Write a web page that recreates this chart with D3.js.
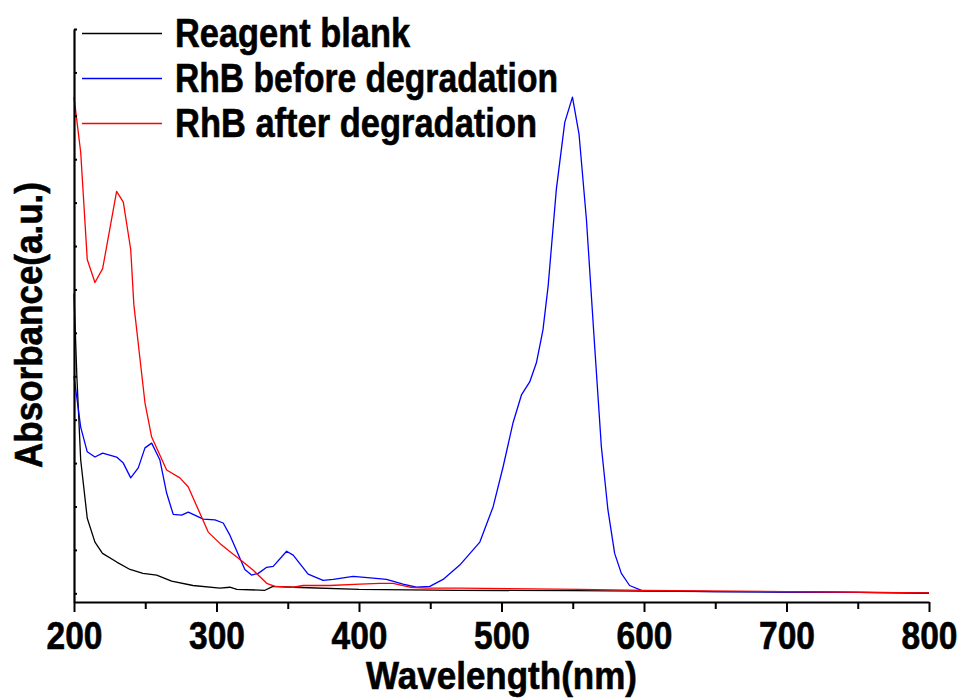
<!DOCTYPE html>
<html>
<head>
<meta charset="utf-8">
<script src="https://cdn.jsdelivr.net/npm/d3@7"></script>
<style>
  html, body { margin: 0; padding: 0; background: #fff; }
  svg text { font-family: "Liberation Sans", Arial, sans-serif; font-weight: bold; fill: #000; stroke: #000; stroke-width: 0.6; }
</style>
</head>
<body>
<svg id="chart" width="962" height="698"></svg>
<script>
// UV-Vis absorption spectra (wavelength in nm, absorbance in a.u.)
const blankWl  = [200, 202, 204.7, 209.3, 214.7, 220, 230, 239.3, 248.4, 258, 268.5, 283.5, 302.4, 309.4, 314.3, 334, 339.6, 353.6, 400, 470, 550, 600, 650, 700, 750, 800];
const blankAbs = [0.69, 0.50, 0.307, 0.173, 0.118, 0.092, 0.072, 0.055, 0.046, 0.042, 0.028, 0.018, 0.012, 0.014, 0.009, 0.007, 0.016, 0.014, 0.009, 0.007, 0.006, 0.005, 0.004, 0.003, 0.002, 0.001];

const beforeWl  = [200, 204.7, 209.3, 214.7, 220.1, 229.9, 234.6, 239.8, 245.1, 249.8, 254.5, 260.3, 265, 269.6, 275.5, 280.2, 290.7, 298.9, 304.7, 309.4, 319.9, 324.6, 329.3, 335.2, 339.8, 349.2, 353.8, 364.3, 374.8, 381.9, 395.9, 409.9, 419.3, 430.9, 440.4, 449.7, 459, 470.7, 484.8, 494.1, 501.1, 508.1, 514, 519.8, 524.5, 529.1, 532.7, 538.5, 544.4, 549.8, 554.4, 559.6, 565.4, 570.1, 574.7, 579.4, 584.1, 589.9, 598.2, 620, 650, 700, 750, 800];
const beforeAbs = [0.50, 0.383, 0.326, 0.314, 0.323, 0.314, 0.300, 0.266, 0.289, 0.335, 0.346, 0.307, 0.231, 0.182, 0.180, 0.187, 0.171, 0.169, 0.162, 0.134, 0.055, 0.042, 0.046, 0.060, 0.062, 0.097, 0.088, 0.044, 0.030, 0.032, 0.039, 0.035, 0.032, 0.021, 0.014, 0.016, 0.032, 0.065, 0.118, 0.199, 0.291, 0.393, 0.457, 0.487, 0.531, 0.607, 0.707, 0.931, 1.085, 1.143, 1.058, 0.861, 0.568, 0.337, 0.192, 0.092, 0.046, 0.018, 0.007, 0.005, 0.004, 0.003, 0.002, 0.0];

const afterWl  = [200, 204.7, 209.3, 214.7, 220.1, 229.9, 234.6, 239.8, 242, 249.8, 254.5, 265, 274.3, 280.2, 294.2, 302.4, 308.2, 318.7, 325.8, 335.2, 341, 353.8, 360.8, 379.5, 400.6, 414.6, 423.9, 435.7, 447.4, 470.7, 555, 600, 700, 800];
const afterAbs = [1.143, 1.016, 0.769, 0.716, 0.748, 0.926, 0.901, 0.792, 0.665, 0.439, 0.360, 0.284, 0.266, 0.245, 0.141, 0.115, 0.099, 0.072, 0.053, 0.023, 0.016, 0.014, 0.018, 0.018, 0.021, 0.023, 0.023, 0.014, 0.012, 0.012, 0.009, 0.007, 0.004, 0.001];

const seriesNames  = ["Reagent blank", "RhB before degradation", "RhB after degradation"];
const seriesColors = ["#000000", "#0000ff", "#ff0000"];

const xMajorTicks = [200, 300, 400, 500, 600, 700, 800];
const xMinorTicks = [250, 350, 450, 550, 650, 750];
const yTicks = [0, 0.1, 0.2, 0.3, 0.4, 0.5, 0.6, 0.7, 0.8, 0.9, 1.0, 1.1, 1.2, 1.3];

const series = [
  { name: seriesNames[0], color: seriesColors[0], pts: blankWl.map((w, i) => [w, blankAbs[i]]) },
  { name: seriesNames[1], color: seriesColors[1], pts: beforeWl.map((w, i) => [w, beforeAbs[i]]) },
  { name: seriesNames[2], color: seriesColors[2], pts: afterWl.map((w, i) => [w, afterAbs[i]]) }
];

const svg = d3.select("#chart");
const x = d3.scaleLinear().domain([200, 800]).range([74, 929]);
const y = d3.scaleLinear().domain([-0.02, 1.3]).range([602, 29]);

// spectra
const line = d3.line().x(d => x(d[0])).y(d => y(d[1]));
svg.append("g").selectAll("path")
  .data(series)
  .join("path")
  .attr("d", d => line(d.pts))
  .attr("fill", "none")
  .attr("stroke", d => d.color)
  .attr("stroke-width", 1.3)
  .attr("stroke-linejoin", "round");

// bottom axis: labelled major ticks plus short minor ticks
const xAxis = svg.append("g")
  .attr("transform", "translate(0,602)")
  .call(d3.axisBottom(x).tickValues(xMajorTicks).tickSize(10).tickSizeOuter(0).tickPadding(9).tickFormat(d3.format("d")));
xAxis.select(".domain").attr("stroke", "#000").attr("stroke-width", 2.2);
xAxis.selectAll(".tick line").attr("stroke", "#000").attr("stroke-width", 2);
xAxis.selectAll(".tick text")
  .attr("font-size", 38)
  .attr("textLength", 56)
  .attr("lengthAdjust", "spacingAndGlyphs")
  .attr("dy", null)
  .attr("y", 47);

const xMinor = svg.append("g")
  .attr("transform", "translate(0,602)")
  .call(d3.axisBottom(x).tickValues(xMinorTicks).tickSize(7).tickFormat(""));
xMinor.select(".domain").remove();
xMinor.selectAll(".tick line").attr("stroke", "#000").attr("stroke-width", 2);

// left axis: small inward ticks, no labels
const yAxis = svg.append("g")
  .attr("transform", "translate(74,0)")
  .call(d3.axisLeft(y).tickValues(yTicks).tickSizeInner(-3).tickSizeOuter(0).tickFormat(""));
yAxis.select(".domain").attr("stroke", "#000").attr("stroke-width", 2.2);
yAxis.selectAll(".tick line").attr("stroke", "#000").attr("stroke-width", 2);

// axis titles
svg.append("text")
  .attr("x", 366).attr("y", 689)
  .attr("font-size", 38)
  .attr("textLength", 271)
  .attr("lengthAdjust", "spacingAndGlyphs")
  .text("Wavelength(nm)");

svg.append("text")
  .attr("transform", "translate(42,468) rotate(-90)")
  .attr("font-size", 38)
  .attr("textLength", 286)
  .attr("lengthAdjust", "spacingAndGlyphs")
  .text("Absorbance(a.u.)");

// legend
const legendWidths = [235, 383, 362];
const legend = svg.append("g");
series.forEach((s, i) => {
  const ly = 33.5 + i * 45;
  legend.append("line")
    .attr("x1", 82).attr("x2", 162)
    .attr("y1", ly).attr("y2", ly)
    .attr("stroke", s.color)
    .attr("stroke-width", 1.3);
  legend.append("text")
    .attr("x", 175).attr("y", ly + 13)
    .attr("font-size", 41)
    .attr("textLength", legendWidths[i])
    .attr("lengthAdjust", "spacingAndGlyphs")
    .text(s.name);
});
</script>
</body>
</html>
